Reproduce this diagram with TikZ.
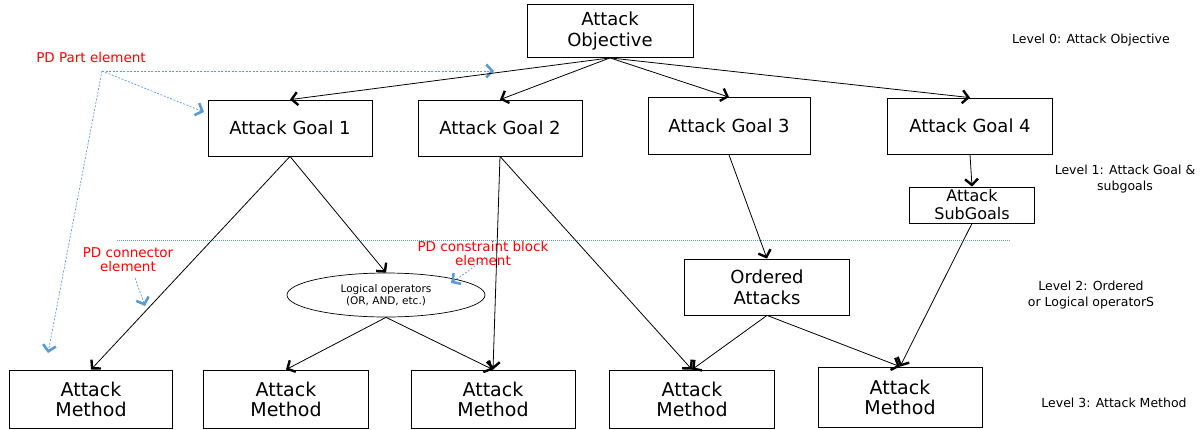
\documentclass[tikz,border=0pt]{standalone}
\usepackage{fontspec}
\setmainfont{DejaVu Sans}
\usetikzlibrary{shapes,arrows,arrows.meta}

\begin{document}
\begin{tikzpicture}[x=1pt,y=-1pt]
\tikzstyle{bigbox} = [draw=black,line width=0.8pt,align=center,inner sep=0pt,font=\fontsize{18}{21}\selectfont]
\tikzstyle{arr} = [-{Straight Barb[length=6pt,width=13pt,line width=2.4pt]},line width=0.8pt]
\tikzstyle{pdarrow} = [-{Straight Barb[length=6pt,width=13pt,line width=2.6pt]},color=pdblue,line width=0.7pt,dash pattern=on 2pt off 1.5pt]
\tikzstyle{pdtext} = [text=red,align=center,inner sep=0pt,font=\fontsize{13.5}{14}\selectfont]
\tikzstyle{lvltext} = [align=center,inner sep=0pt,font=\fontsize{12.5}{16}\selectfont]
\definecolor{pdblue}{RGB}{91,155,213}
\useasboundingbox (0,0) rectangle (1200,429);

\node[bigbox,minimum width=166pt,minimum height=53pt] (obj) at (610,31) {Attack\\Objective};
\node[bigbox,minimum width=164pt,minimum height=56pt] (goal1) at (290,128) {Attack Goal 1};
\node[bigbox,minimum width=164pt,minimum height=56pt] (goal2) at (500,128) {Attack Goal 2};
\node[bigbox,minimum width=162pt,minimum height=57pt] (goal3) at (729,126) {Attack Goal 3};
\node[bigbox,minimum width=165pt,minimum height=56pt] (goal4) at (970,126) {Attack Goal 4};
\node[bigbox,minimum width=125pt,minimum height=36pt,font=\fontsize{16}{18}\selectfont] (sub) at (972,205) {Attack\\SubGoals};
\node[draw=black,line width=0.7pt,ellipse,minimum width=198pt,minimum height=44pt,inner sep=0pt,align=center,font=\fontsize{10.5}{12}\selectfont] (logic) at (386,295) {Logical operators\\(OR, AND, etc.)};
\node[bigbox,minimum width=165pt,minimum height=56pt] (ord) at (767,287) {Ordered\\Attacks};
\node[bigbox,minimum width=163pt,minimum height=58pt,font=\fontsize{19}{20}\selectfont] (meth1) at (91,399) {Attack\\Method};
\node[bigbox,minimum width=165pt,minimum height=58pt,font=\fontsize{19}{20}\selectfont] (meth2) at (286,399) {Attack\\Method};
\node[bigbox,minimum width=164pt,minimum height=58pt,font=\fontsize{19}{20}\selectfont] (meth3) at (493,399) {Attack\\Method};
\node[bigbox,minimum width=165pt,minimum height=58pt,font=\fontsize{19}{20}\selectfont] (meth4) at (692,399) {Attack\\Method};
\node[bigbox,minimum width=164pt,minimum height=60pt,font=\fontsize{19}{20}\selectfont] (meth5) at (900,397) {Attack\\Method};

\node[lvltext] (lvl0) at (1091,40) {Level 0: Attack Objective};
\node[lvltext] (lvl1) at (1125,179) {Level 1: Attack Goal \&\\subgoals};
\node[lvltext] (lvl2) at (1091,295) {Level 2: Ordered\\or Logical operatorS};
\node[lvltext] (lvl3) at (1114,403) {Level 3: Attack Method};

\node[pdtext] (pdpart) at (91,57) {PD Part element};
\node[pdtext] (pdconn) at (128,260) {PD connector\\element};
\node[pdtext] (pdcons) at (483,253) {PD constraint block\\element};

\coordinate (pd) at (102,71);
\coordinate (pdtop) at (494,71);
\coordinate (pdgoal) at (204,112);
\coordinate (pdleft) at (48,353);
\coordinate (connA) at (135,278);
\coordinate (connB) at (145,306);
\coordinate (consA) at (481,262);
\coordinate (consB) at (451,283);
\coordinate (lineA) at (117,240);
\coordinate (lineB) at (1010,240);

\draw[color=pdblue!80!gray,line width=0.5pt,dash pattern=on 1pt off 1pt] (lineA) -- (lineB);
\draw[pdarrow] (pd) -- (pdtop);
\draw[pdarrow] (pd) -- (pdgoal);
\draw[pdarrow] (pd) -- (pdleft);
\draw[pdarrow] (connA) -- (connB);
\draw[pdarrow] (consA) -- (consB);

\draw[arr] (obj.south) -- (goal1.north);
\draw[arr] (obj.south) -- (goal2.north);
\draw[arr] (obj.south) -- (goal3.north);
\draw[arr] (obj.south) -- (goal4.north);
\draw[arr] (goal1.south) -- (meth1.north);
\draw[arr] (goal1.south) -- (logic.north);
\draw[arr] (goal2.south) -- (meth3.north);
\draw[arr] (goal2.south) -- (meth4.north);
\draw[arr] (goal3.south) -- (ord.north);
\draw[arr] (goal4.south) -- (sub.north);
\draw[arr] (sub.south) -- (meth5.north);
\draw[arr] (logic.south) -- (meth2.north);
\draw[arr] (logic.south) -- (meth3.north);
\draw[arr] (ord.south) -- (meth4.north);
\draw[arr] (ord.south) -- (meth5.north);
\end{tikzpicture}
\end{document}
